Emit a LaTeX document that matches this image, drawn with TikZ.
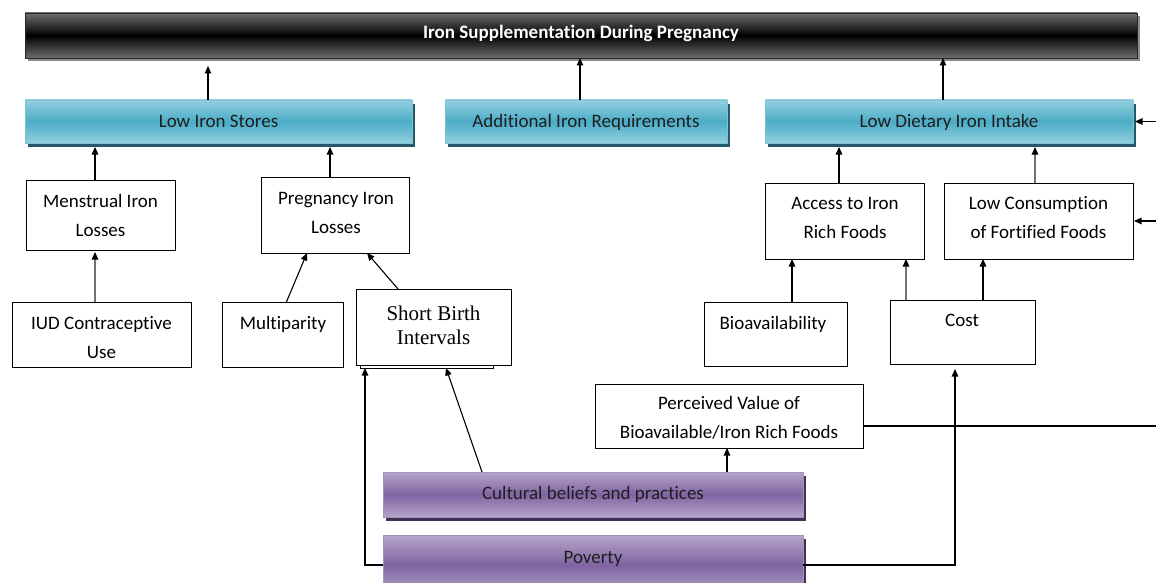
\documentclass[tikz,border=0pt]{standalone}
\usepackage{fontspec}
\setmainfont{Carlito}[Ligatures=NoCommon]
\newfontfamily\timesfont{Liberation Serif}
\usetikzlibrary{arrows.meta,shadows}

\definecolor{titlegray}{HTML}{6E6E6E}
\definecolor{bluelight}{HTML}{93CFDF}
\definecolor{bluemid}{HTML}{4BACC6}
\definecolor{blueedge}{HTML}{7FC3D5}
\definecolor{blueshade}{HTML}{24596A}
\definecolor{purplelight}{HTML}{B5A5C9}
\definecolor{purplemid}{HTML}{8064A2}
\definecolor{purpleedge}{HTML}{A491BD}
\definecolor{purpleshade}{HTML}{3F3151}
\definecolor{inkdark}{HTML}{1E1E1E}

\tikzset{
  plainbox/.style={draw=black, line width=0.9pt, fill=white, inner sep=0pt, outer sep=0pt, anchor=north west},
  barbase/.style={inner sep=0pt, outer sep=0pt, anchor=north west, line width=0.7pt},
  titlebar/.style={barbase, draw=black!85, top color=titlegray, bottom color=titlegray, middle color=black,
    drop shadow={shadow xshift=2.5pt, shadow yshift=-3pt, fill=black!45, opacity=1}},
  bluebar/.style={barbase, draw=blueedge, top color=bluelight, bottom color=bluelight, middle color=bluemid,
    drop shadow={shadow xshift=2.5pt, shadow yshift=-4pt, fill=blueshade, opacity=1}},
  purplebar/.style={barbase, draw=purpleedge, top color=purplelight, bottom color=purplelight, middle color=purplemid,
    drop shadow={shadow xshift=2.5pt, shadow yshift=-4pt, fill=purpleshade, opacity=1}},
  lbl/.style={anchor=base, align=center, inner sep=0pt, outer sep=0pt, font=\fontsize{19}{29}\selectfont},
  barlbl/.style={lbl, text=inkdark},
  arr/.style={-{Triangle[width=6.5pt,length=7.5pt,color=black]}, line width=1.1pt, draw=black},
  greyarr/.style={arr, draw=black!55},
  link/.style={line width=1.1pt, draw=black}
}

\begin{document}
\begin{tikzpicture}[x=1pt,y=-1pt]
\useasboundingbox (0,0) rectangle (1156,583);
\clip (0,0) rectangle (1156,583);
\fill[white] (0,0) rectangle (1156,583);

% top goal bar
\node[titlebar, minimum width=1112pt, minimum height=45pt] (title) at (25,13) {};
\node[lbl, text=white, font=\fontsize{19}{29}\selectfont\bfseries] (title-t) at (581,39) {Iron Supplementation During Pregnancy};

% second level: the three causes
\node[bluebar, minimum width=387pt, minimum height=43pt] (lis) at (25,100) {};
\node[barlbl] (lis-t) at (218.5,128) {Low Iron Stores};
\node[bluebar, minimum width=282pt, minimum height=43pt] (air) at (445,100) {};
\node[barlbl] (air-t) at (586,128) {Additional Iron Requirements};
\node[bluebar, minimum width=368pt, minimum height=43pt] (ldi) at (765,100) {};
\node[barlbl] (ldi-t) at (949,128) {Low Dietary Iron Intake};

% left branch (base anchor of a two-line label sits on its last line)
\node[plainbox, minimum width=149pt, minimum height=70pt] (mil) at (26,180) {};
\node[lbl] (mil-t) at (100.5,236) {Menstrual Iron\\Losses};
\node[plainbox, minimum width=148pt, minimum height=76pt] (pil) at (261,177) {};
\node[lbl] (pil-t) at (336,233) {Pregnancy Iron\\Losses};
\node[plainbox, minimum width=179pt, minimum height=65pt] (iud) at (12,302) {};
\node[lbl] (iud-t) at (101.5,358) {IUD Contraceptive\\Use};
\node[plainbox, minimum width=121pt, minimum height=65pt] (multi) at (222,302) {};
\node[lbl] (multi-t) at (283,329) {Multiparity};
\node[plainbox, minimum width=133pt, minimum height=68pt] (sbiback) at (360,300) {};
\node[plainbox, minimum width=155pt, minimum height=76pt] (sbi) at (356,289) {};
\node[lbl, font=\timesfont\fontsize{21}{24}\selectfont] (sbi-t) at (433.5,344) {Short Birth\\Intervals};

% right branch
\node[plainbox, minimum width=159pt, minimum height=76pt] (access) at (765,183) {};
\node[lbl] (access-t) at (845,238) {Access to Iron\\Rich Foods};
\node[plainbox, minimum width=189pt, minimum height=76pt] (lcf) at (944,183) {};
\node[lbl] (lcf-t) at (1038.5,238) {Low Consumption\\of Fortified Foods};
\node[plainbox, minimum width=143pt, minimum height=64pt] (bio) at (704,302) {};
\node[lbl] (bio-t) at (773,329) {Bioavailability};
\node[plainbox, minimum width=145pt, minimum height=64pt] (cost) at (890,300) {};
\node[lbl] (cost-t) at (962,326) {Cost};
\node[plainbox, minimum width=268pt, minimum height=64pt] (pv) at (595,384) {};
\node[lbl] (pv-t) at (729,438) {Perceived Value of\\Bioavailable/Iron Rich Foods};

% root causes
\node[purplebar, minimum width=420pt, minimum height=45pt] (cult) at (383,472) {};
\node[barlbl] (cult-t) at (593,499) {Cultural beliefs and practices};
\node[purplebar, minimum width=420pt, minimum height=60pt] (pov) at (383,535) {};
\node[barlbl] (pov-t) at (593,563) {Poverty};

% free ends at the right margin
\coordinate (ldiin) at (1156,121.5);
\coordinate (lcfin) at (1156,221);
\coordinate (pvout) at (1156,426);

% connectors into the goal bar
\draw[arr] ([xshift=-10.5pt]lis.north) -- ([xshift=-373pt,yshift=-8pt]title.south);
\draw[arr] ([xshift=-6pt]air.north) -- ([xshift=-1pt]title.south);
\draw[arr] ([xshift=-6pt]ldi.north) -- ([xshift=362pt]title.south);
\draw[arr] (ldiin) -- ([xshift=2pt]ldi.east);

% left branch connectors
\draw[arr] ([xshift=-5.5pt]mil.north) -- ([xshift=-123.5pt,yshift=-4pt]lis.south);
\draw[arr] ([xshift=-5pt]pil.north) -- ([xshift=111.5pt,yshift=-4pt]lis.south);
\draw[greyarr] ([xshift=-6.5pt]iud.north) -- ([xshift=-5.5pt,yshift=-2pt]mil.south);
\draw[arr] ([xshift=3.5pt,yshift=-1pt]multi.north) -- ([xshift=-28pt]pil.south);
\draw[arr] ([xshift=-35.5pt]sbi.north) -- ([xshift=32pt]pil.south);

% right branch connectors
\draw[arr] ([xshift=-5.5pt]access.north) -- ([xshift=-110pt,yshift=-4pt]ldi.south);
\draw[greyarr] ([xshift=-3.5pt]lcf.north) -- ([xshift=86pt,yshift=-4pt]ldi.south);
\draw[arr] (lcfin) -- ([xshift=1pt]lcf.east);
\draw[arr] ([xshift=16.5pt]bio.north) -- ([xshift=-52.5pt]access.south);
\draw[greyarr] ([xshift=-56.5pt]cost.north) -- ([xshift=61.5pt]access.south);
\draw[arr] ([xshift=20.5pt]cost.north) -- ([xshift=-55.5pt]lcf.south);
\draw[link] ([yshift=-10pt]pv.east) -- (pvout);

% root cause connectors
\draw[arr] ([xshift=134pt]cult.north) -- ([xshift=-2pt]pv.south);
\draw[arr] ([xshift=-111pt]cult.north) -- ([xshift=19.5pt]sbiback.south);
\draw[arr] (pov.west) -| ([xshift=-61.5pt]sbiback.south);
\draw[arr] (pov.east) -| ([xshift=-7.5pt,yshift=-5pt]cost.south);
\end{tikzpicture}
\end{document}
